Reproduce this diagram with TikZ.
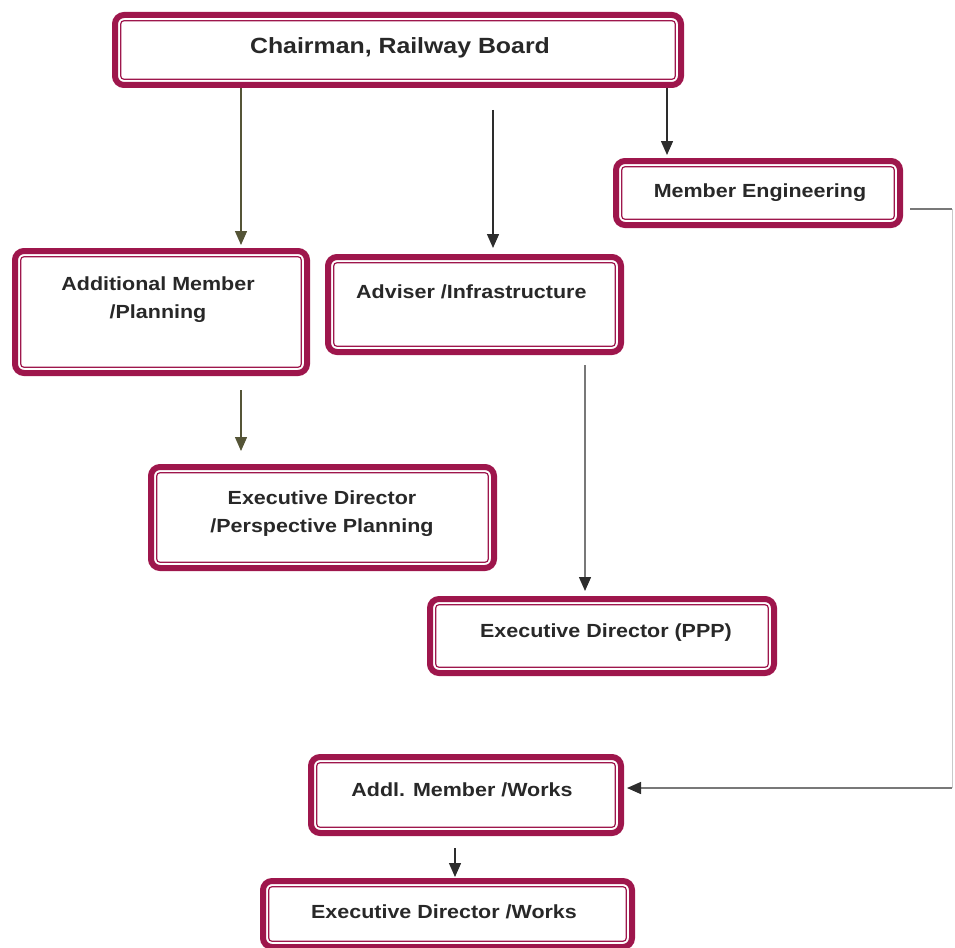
\documentclass[tikz,border=0pt]{standalone}
\usepackage{fontspec}
\newfontfamily\boxfont[FakeStretch=1.13]{Liberation Sans}
\usetikzlibrary{arrows.meta}
\definecolor{boxred}{RGB}{158,22,76}
\definecolor{txt}{RGB}{40,40,40}
\definecolor{olive}{RGB}{85,85,55}
\definecolor{dark}{RGB}{45,45,45}
\definecolor{faint}{RGB}{120,120,120}
\tikzset{
  orgbox/.style={draw=boxred, line width=6pt,
    rounded corners=9pt, fill=white, inner sep=0pt, anchor=center,
    path picture={\draw[boxred, line width=1.2pt, rounded corners=3pt]
      ([shift={(5.8pt,5.8pt)}]path picture bounding box.south west) rectangle
      ([shift={(-5.8pt,-5.8pt)}]path picture bounding box.north east);}},
  lbl/.style={font=\boxfont\bfseries\fontsize{19}{28}\selectfont, text=txt, align=center, inner sep=0pt},
  arr/.style={line width=1.4pt, draw=dark, -{Triangle[width=12pt,length=14pt,color=dark]}},
  oarr/.style={line width=1.4pt, draw=olive, -{Triangle[width=12pt,length=14pt,color=olive]}}
}
\begin{document}
\begin{tikzpicture}[x=1pt,y=-1pt]
\useasboundingbox (0,0) rectangle (955,947);
% boxes
\node[orgbox, minimum width=566pt, minimum height=70pt] (chair) at (398,50) {};
\node[lbl, font=\boxfont\bfseries\fontsize{22}{26}\selectfont] (chairT) at (400,48) {Chairman, Railway Board};
\node[orgbox, minimum width=284pt, minimum height=64pt] (meng) at (758,193) {};
\node[lbl] (mengT) at (760,193) {Member Engineering};
\node[orgbox, minimum width=292pt, minimum height=122pt] (amp) at (161,312) {};
\node[lbl] (ampT) at (158,300) {Additional Member\\/Planning};
\node[orgbox, minimum width=293pt, minimum height=95pt] (adv) at (474.5,304.5) {};
\node[lbl, anchor=west] (advT) at (356,292) {Adviser /Infrastructure};
\node[orgbox, minimum width=343pt, minimum height=101pt] (edpp) at (322.5,517.5) {};
\node[lbl] (edppT) at (322,514) {Executive Director\\/Perspective Planning};
\node[orgbox, minimum width=344pt, minimum height=74pt] (ppp) at (602,636) {};
\node[lbl] (pppT) at (606,633) {Executive Director (PPP)};
\node[orgbox, minimum width=310pt, minimum height=76pt] (amw) at (466,795) {};
\node[lbl] (amwT) at (462,790) {Addl. Member /Works};
\node[orgbox, minimum width=369pt, minimum height=66pt] (edw) at (447.5,914) {};
\node[lbl] (edwT) at (444,912) {Executive Director /Works};
% free ends
\coordinate (a2s) at (493,110);
\coordinate (a2e) at (493,248);
\coordinate (a4s) at (241,390);
\coordinate (a4e) at (241,451);
\coordinate (a5s) at (585,365);
\coordinate (a5e) at (585,591);
\coordinate (a7s) at (455,848);
\coordinate (a7e) at (455,877);
\coordinate (r1) at (910,209);
\coordinate (r2) at (952,209);
\coordinate (r3) at (952,788);
% connectors
\draw[oarr] (chair.south -| 241,0) -- ([yshift=3pt]amp.north -| 241,0);
\draw[arr] (a2s) -- (a2e);
\draw[arr] (chair.south -| 667,0) -- ([yshift=3pt]meng.north -| 667,0);
\draw[oarr] (a4s) -- (a4e);
\draw[arr, draw=faint] (a5s) -- (a5e);
\draw[line width=1.2pt, draw=faint] (r1) -- (r2);
\draw[line width=0.8pt, draw=faint!40] (r2) -- (r3);
\draw[arr, draw=faint] (r3) -- ([xshift=3pt]amw.east |- r3);
\draw[arr] (a7s) -- (a7e);
\end{tikzpicture}
\end{document}
